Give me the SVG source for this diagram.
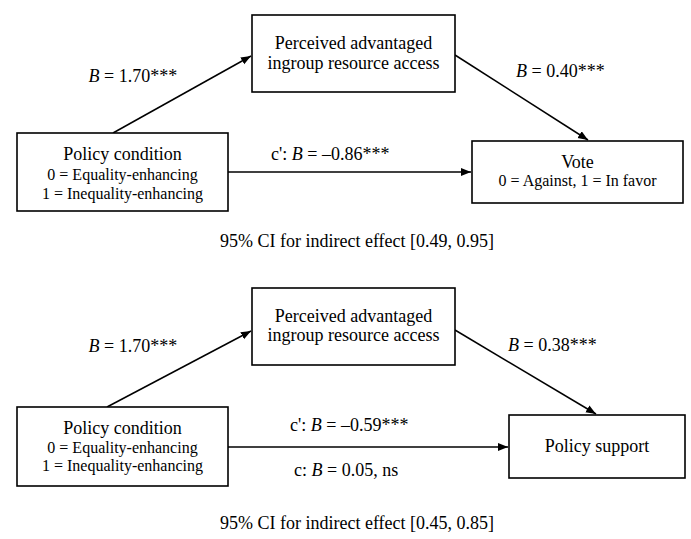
<svg xmlns="http://www.w3.org/2000/svg" width="691" height="539" viewBox="0 0 691 539">
<style>
.box{fill:#fff;stroke:#000;stroke-width:1.6}
.t{font-family:"Liberation Serif","Times New Roman","DejaVu Serif",serif;fill:#000}
.l{font-size:18px}
.s{font-size:16px}
.c{text-anchor:middle}
.e{stroke:#000;stroke-width:1.5;fill:none;marker-end:url(#ah)}
</style>
<defs>
<marker id="ah" markerUnits="userSpaceOnUse" markerWidth="11" markerHeight="9" refX="10" refY="4" orient="auto" viewBox="0 0 11 9">
<path d="M0,0 L10,4 L0,8 Z" fill="#000"/>
</marker>
</defs>
<rect width="691" height="539" fill="#fff"/>
<g id="connectors">
<line class="e" x1="113" y1="133" x2="251" y2="56"/>
<line class="e" x1="455" y1="55" x2="588" y2="140"/>
<line class="e" x1="228" y1="172" x2="471" y2="172"/>
<line class="e" x1="107" y1="407" x2="251" y2="331"/>
<line class="e" x1="455" y1="330" x2="596" y2="414"/>
<line class="e" x1="228" y1="447" x2="508" y2="447"/>
</g>
<g font-family="Liberation Serif, Times New Roman, DejaVu Serif, serif">
<g id="top-mediator">
<rect class="box" x="252" y="15" width="203" height="77"/>
<text class="t l c" x="353.5" y="49">Perceived advantaged</text>
<text class="t l c" x="353.5" y="68.5">ingroup resource access</text>
</g>
<g id="top-condition">
<rect class="box" x="17" y="133" width="211" height="78"/>
<text class="t l c" x="122.5" y="160">Policy condition</text>
<text class="t s c" x="122.5" y="180">0 = Equality-enhancing</text>
<text class="t s c" x="122.5" y="199">1 = Inequality-enhancing</text>
</g>
<g id="top-vote">
<rect class="box" x="472" y="141" width="211" height="62"/>
<text class="t l c" x="577.5" y="168">Vote</text>
<text class="t s c" x="577.5" y="186">0 = Against, 1 = In favor</text>
</g>
<g id="top-labels">
<text class="t l" x="88.5" y="82"><tspan font-style="italic">B</tspan> = 1.70***</text>
<text class="t l" x="516" y="77"><tspan font-style="italic">B</tspan> = 0.40***</text>
<text class="t l" x="271" y="160">c': <tspan font-style="italic">B</tspan> = –0.86***</text>
<text class="t l c" x="357" y="247">95% CI for indirect effect [0.49, 0.95]</text>
</g>
<g id="bottom-mediator">
<rect class="box" x="252" y="288" width="203" height="77"/>
<text class="t l c" x="353.5" y="321.5">Perceived advantaged</text>
<text class="t l c" x="353.5" y="341">ingroup resource access</text>
</g>
<g id="bottom-condition">
<rect class="box" x="17" y="407" width="211" height="79"/>
<text class="t l c" x="122.5" y="434">Policy condition</text>
<text class="t s c" x="122.5" y="453">0 = Equality-enhancing</text>
<text class="t s c" x="122.5" y="471">1 = Inequality-enhancing</text>
</g>
<g id="bottom-support">
<rect class="box" x="509" y="415" width="176" height="63"/>
<text class="t l c" x="597" y="452">Policy support</text>
</g>
<g id="bottom-labels">
<text class="t l" x="88.5" y="352"><tspan font-style="italic">B</tspan> = 1.70***</text>
<text class="t l" x="508" y="351"><tspan font-style="italic">B</tspan> = 0.38***</text>
<text class="t l" x="290" y="431">c': <tspan font-style="italic">B</tspan> = –0.59***</text>
<text class="t l" x="294" y="476">c: <tspan font-style="italic">B</tspan> = 0.05, ns</text>
<text class="t l c" x="357" y="529">95% CI for indirect effect [0.45, 0.85]</text>
</g>
</g>
</svg>
